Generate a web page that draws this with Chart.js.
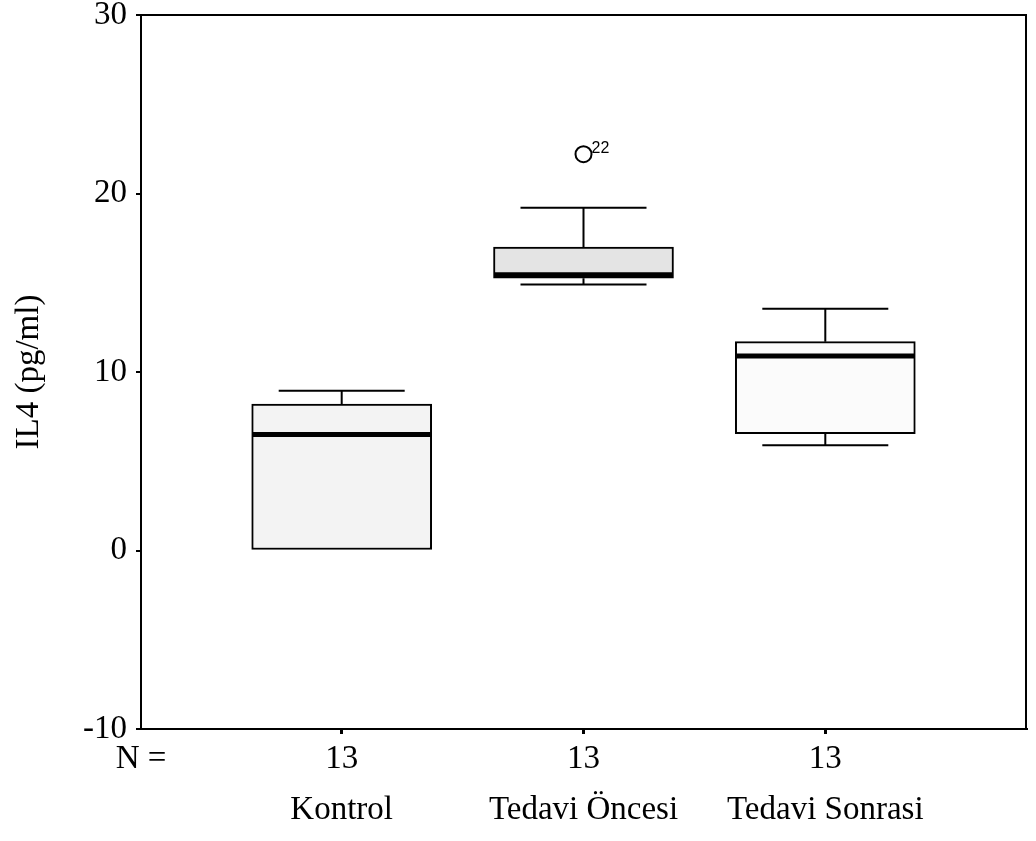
<html>
    <head>
        <meta http-equiv="Content-Type" content="text/html; charset=utf-8"/>
        <title> IL4 </title>
        <script src="https://cdn.jsdelivr.net/npm/chart.js@4.4.1/dist/chart.umd.min.js"></script>
        <style>
            body { margin: 0; background: #fff; }
            .grafica { width: 1036px; height: 841px; }
        </style>
    </head>
    <body>
        <div class="grafica">
            <canvas id="graficaIL4" width="1036" height="841"></canvas>
        </div>

        <script>
            // datos
            var grupos = ['Kontrol', 'Tedavi Öncesi', 'Tedavi Sonrasi']
            var nValores = [13, 13, 13]
            var bigoteBajo = [0, 14.9, 5.9]
            var cuartil1 = [0, 15.25, 6.55]
            var mediana = [6.5, 15.45, 10.9]
            var cuartil3 = [8.2, 17.0, 11.7]
            var bigoteAlto = [8.95, 19.2, 13.55]
            var atipicoGrupo = [2]
            var atipicoValor = [22.2]
            var atipicoCaso = ['22']
            var ticksY = [-10, 0, 10, 20, 30]

            var rellenos = ['#f3f3f3', '#e4e4e4', '#fbfbfb']
            var fuente = "'Liberation Serif', 'Times New Roman', serif"

            var cajas = grupos.map((g, i) => ({ x: i + 1, y: [cuartil1[i], cuartil3[i]] }))
            var atipicos = atipicoGrupo.map((g, i) => ({ x: g, y: atipicoValor[i] }))

            // bigotes, medianas, marco y etiqueta del atipico
            var dibujoCaja = {
                id: 'dibujoCaja',
                afterDatasetsDraw: (chart) => {
                    var ctx = chart.ctx
                    var sx = chart.scales.x
                    var sy = chart.scales.y
                    var area = chart.chartArea
                    ctx.save()
                    ctx.strokeStyle = '#000'
                    grupos.forEach((g, i) => {
                        var cx = sx.getPixelForValue(i + 1)
                        var yA = sy.getPixelForValue(bigoteAlto[i])
                        var yB = sy.getPixelForValue(bigoteBajo[i])
                        var y3 = sy.getPixelForValue(cuartil3[i])
                        var y1 = sy.getPixelForValue(cuartil1[i])
                        ctx.lineWidth = 2
                        ctx.beginPath()
                        ctx.moveTo(cx, y3); ctx.lineTo(cx, yA)
                        ctx.moveTo(cx - 63, yA); ctx.lineTo(cx + 63, yA)
                        if (bigoteBajo[i] < cuartil1[i]) {
                            ctx.moveTo(cx, y1); ctx.lineTo(cx, yB)
                            ctx.moveTo(cx - 63, yB); ctx.lineTo(cx + 63, yB)
                        }
                        ctx.stroke()
                        var ym = sy.getPixelForValue(mediana[i])
                        ctx.lineWidth = 5
                        ctx.beginPath()
                        ctx.moveTo(cx - 89, ym); ctx.lineTo(cx + 89, ym)
                        ctx.stroke()
                    })
                    // marco superior y derecho
                    ctx.lineWidth = 2
                    ctx.beginPath()
                    ctx.moveTo(area.left, area.top); ctx.lineTo(area.right, area.top)
                    ctx.lineTo(area.right, area.bottom)
                    ctx.stroke()
                    // numero de caso del atipico
                    ctx.fillStyle = '#000'
                    ctx.font = "16px 'Liberation Sans', Arial, sans-serif"
                    ctx.textBaseline = 'middle'
                    atipicoGrupo.forEach((g, i) => {
                        var px = sx.getPixelForValue(g)
                        var py = sy.getPixelForValue(atipicoValor[i])
                        ctx.fillText(atipicoCaso[i], px + 8, py - 6)
                    })
                    ctx.restore()
                }
            }

            var contenedor = document.getElementById('graficaIL4')

            var grafica = new Chart(contenedor, {
                type: 'bar',
                data: {
                    datasets: [{
                        type: 'bar',
                        label: 'IL4',
                        data: cajas,
                        backgroundColor: rellenos,
                        borderColor: '#000',
                        borderWidth: 2,
                        borderSkipped: false,
                        barThickness: 180
                    }, {
                        type: 'scatter',
                        label: 'atipico',
                        data: atipicos,
                        pointStyle: 'circle',
                        pointRadius: 8,
                        backgroundColor: '#fff',
                        borderColor: '#000',
                        borderWidth: 2
                    }]
                },
                options: {
                    responsive: false,
                    animation: false,
                    layout: { padding: { top: 15, right: 4, left: 0, bottom: 0 } },
                    plugins: {
                        legend: { display: false },
                        tooltip: { enabled: false }
                    },
                    scales: {
                        x: {
                            type: 'linear',
                            min: 0.17,
                            max: 3.83,
                            offset: false,
                            afterBuildTicks: (scale) => {
                                scale.ticks = [scale.min, 1, 2, 3].map(v => ({ value: v }))
                            },
                            afterFit: (scale) => {
                                scale.height = 112
                                scale.paddingLeft = 0
                                scale.paddingRight = 0
                            },
                            ticks: {
                                autoSkip: false,
                                maxRotation: 0,
                                color: '#000',
                                padding: 0,
                                font: { family: fuente, size: 33, lineHeight: 1.55 },
                                callback: (value, index) => index === 0 ? 'N =' : [String(nValores[index - 1]), grupos[index - 1]]
                            },
                            grid: {
                                drawOnChartArea: false,
                                offset: false,
                                tickLength: 5,
                                lineWidth: 3,
                                color: (c) => c.index === 0 ? 'rgba(0,0,0,0)' : '#000'
                            },
                            border: { display: true, color: '#000', width: 2 }
                        },
                        y: {
                            min: -10,
                            max: 30,
                            afterBuildTicks: (scale) => {
                                scale.ticks = ticksY.map(v => ({ value: v }))
                            },
                            afterFit: (scale) => {
                                scale.width = 141
                                scale.paddingTop = 0
                                scale.paddingBottom = 0
                            },
                            ticks: {
                                color: '#000',
                                padding: 9,
                                font: { family: fuente, size: 33 }
                            },
                            grid: {
                                drawOnChartArea: false,
                                tickLength: 5,
                                lineWidth: 2,
                                color: '#000'
                            },
                            border: { display: true, color: '#000', width: 2 },
                            title: {
                                display: true,
                                text: 'IL4 (pg/ml)',
                                color: '#000',
                                padding: { top: 10, bottom: 4 },
                                font: { family: fuente, size: 33 }
                            }
                        }
                    }
                },
                plugins: [dibujoCaja]
            })
        </script>
    </body>
</html>
